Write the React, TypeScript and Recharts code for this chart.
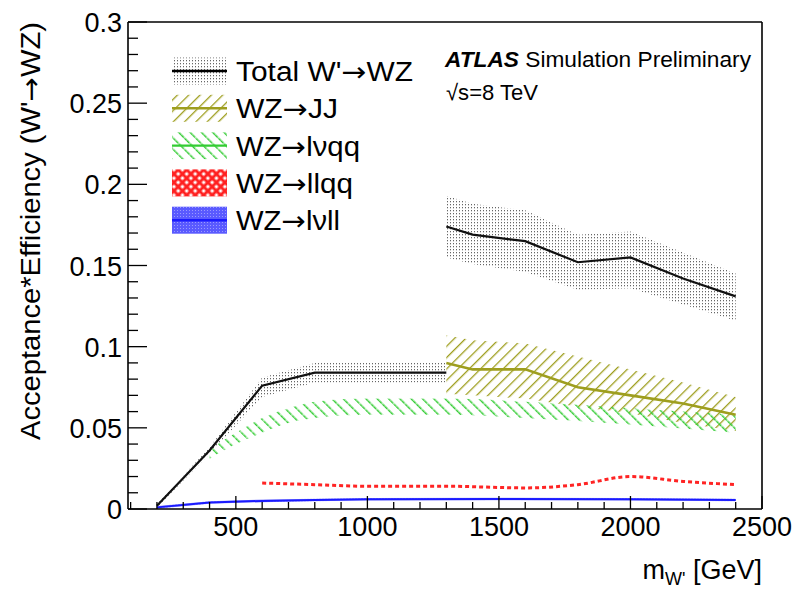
import React from 'react';
import { Area, ComposedChart, Line, XAxis, YAxis } from 'recharts';

// W' mass points and acceptance*efficiency
const totalLoMass = [200, 400, 600, 800, 1000, 1300];
const totalLoVal = [0.002, 0.036, 0.076, 0.084, 0.084, 0.084];
const totalLoDown = [0.001, 0.034, 0.069, 0.078, 0.078, 0.078];
const totalLoUp = [0.003, 0.038, 0.081, 0.09, 0.09, 0.09];

const totalHiMass = [1300, 1400, 1600, 1800, 2000, 2200, 2400];
const totalHiVal = [0.174, 0.169, 0.165, 0.152, 0.155, 0.142, 0.131];
const totalHiDown = [0.155, 0.151, 0.146, 0.135, 0.136, 0.126, 0.116];
const totalHiUp = [0.193, 0.188, 0.184, 0.169, 0.171, 0.158, 0.145];

const jjMass = [1300, 1400, 1600, 1800, 2000, 2200, 2400];
const jjVal = [0.09, 0.086, 0.086, 0.075, 0.07, 0.065, 0.058];
const jjDown = [0.071, 0.07, 0.068, 0.063, 0.059, 0.053, 0.048];
const jjUp = [0.107, 0.104, 0.102, 0.094, 0.086, 0.078, 0.069];

const lvqqMass = [400, 500, 600, 700, 800, 1000, 1300, 1600, 2000, 2400];
const lvqqDown = [0.031, 0.04, 0.047, 0.053, 0.056, 0.058, 0.058, 0.056, 0.052, 0.047];
const lvqqUp = [0.037, 0.047, 0.056, 0.062, 0.066, 0.068, 0.068, 0.066, 0.062, 0.058];

const llqqMass = [600, 800, 1000, 1300, 1600, 1800, 2000, 2200, 2400];
const llqqVal = [0.016, 0.015, 0.014, 0.014, 0.013, 0.015, 0.02, 0.017, 0.015];

const lvllMass = [200, 400, 600, 800, 1000, 1500, 2000, 2400];
const lvllVal = [0.001, 0.004, 0.005, 0.0055, 0.006, 0.0062, 0.006, 0.0055];

const xTicks = [
  100, 200, 300, 400, 500, 600, 700, 800, 900, 1000, 1100, 1200, 1300, 1400, 1500, 1600, 1700,
  1800, 1900, 2000, 2100, 2200, 2300, 2400, 2500,
];
const yTicks = [
  0, 0.01, 0.02, 0.03, 0.04, 0.05, 0.06, 0.07, 0.08, 0.09, 0.1, 0.11, 0.12, 0.13, 0.14, 0.15,
  0.16, 0.17, 0.18, 0.19, 0.2, 0.21, 0.22, 0.23, 0.24, 0.25, 0.26, 0.27, 0.28, 0.29, 0.3,
];

const legendLabels = ["Total W'→WZ", 'WZ→JJ', 'WZ→lνqq', 'WZ→llqq', 'WZ→lνll'];
const legendWidths = [177, 102, 124, 117, 104];

const totalLo = totalLoMass.map((m, i) => ({ m, v: totalLoVal[i], band: [totalLoDown[i], totalLoUp[i]] }));
const totalHi = totalHiMass.map((m, i) => ({ m, v: totalHiVal[i], band: [totalHiDown[i], totalHiUp[i]] }));
const jj = jjMass.map((m, i) => ({ m, v: jjVal[i], band: [jjDown[i], jjUp[i]] }));
const lvqq = lvqqMass.map((m, i) => ({ m, band: [lvqqDown[i], lvqqUp[i]] }));
const llqq = llqqMass.map((m, i) => ({ m, v: llqqVal[i] }));
const lvll = lvllMass.map((m, i) => ({ m, v: lvllVal[i], band: [lvllVal[i] - 0.0008, lvllVal[i] + 0.0008] }));

const FONT = '"Liberation Sans", Arial, sans-serif';
const ARROW_FONT = '"DejaVu Sans", sans-serif';
const OLIVE = '#9e9e1e';
const GREEN = '#33cc33';

function Patterns({ p }: { p: string }) {
  return (
    <defs>
      <pattern id={`${p}dots`} width="3" height="3" patternUnits="userSpaceOnUse">
        <rect width="1" height="1.3" fill="#666" />
      </pattern>
      <pattern id={`${p}olive`} width="8" height="8" patternUnits="userSpaceOnUse" patternTransform="rotate(45)">
        <line x1="0" y1="0" x2="0" y2="8" stroke={OLIVE} strokeWidth="2.6" />
      </pattern>
      <pattern id={`${p}green`} width="8" height="8" patternUnits="userSpaceOnUse" patternTransform="rotate(-45)">
        <line x1="0" y1="0" x2="0" y2="8" stroke={GREEN} strokeWidth="3" strokeDasharray="3.5 0.8" />
      </pattern>
      <pattern id={`${p}red`} width="6" height="6" patternUnits="userSpaceOnUse" patternTransform="rotate(45)">
        <rect width="6" height="6" fill="#ff2020" />
        <rect x="1.5" y="1.5" width="3" height="3" fill="#fff" />
      </pattern>
      <pattern id={`${p}blue`} width="3" height="3" patternUnits="userSpaceOnUse">
        <rect width="3" height="3" fill="#5a5aff" />
        <rect width="1" height="1" fill="#9a9aff" />
      </pattern>
    </defs>
  );
}

// splits a label on the arrow so the arrow can use a font that draws it full size
function withArrow(label: string) {
  const parts = label.split('→');
  if (parts.length < 2) return label;
  return (
    <>
      {parts[0]}
      <tspan fontFamily={ARROW_FONT}>→</tspan>
      {parts[1]}
    </>
  );
}

function BottomTick(props: any) {
  const { x, y, payload } = props;
  const major = payload.value % 500 === 0;
  return (
    <g>
      <line x1={x} y1={y} x2={x} y2={y - (major ? 13 : 7)} stroke="#000" strokeWidth={1.3} />
      {major && (
        <text x={x} y={y + 27} textAnchor="middle" fontSize={27} fontFamily={FONT} fill="#000">
          {payload.value}
        </text>
      )}
    </g>
  );
}

function TopTick(props: any) {
  const { x, y, payload } = props;
  const major = payload.value % 500 === 0;
  return <line x1={x} y1={y} x2={x} y2={y + (major ? 13 : 7)} stroke="#000" strokeWidth={1.3} />;
}

function LeftTick(props: any) {
  const { x, y, payload } = props;
  const major = Math.round(payload.value * 100) % 5 === 0;
  return (
    <g>
      <line x1={x} y1={y} x2={x + (major ? 19 : 10)} y2={y} stroke="#000" strokeWidth={1.3} />
      {major && (
        <text x={x - 6} y={y + 10} textAnchor="end" fontSize={27} fontFamily={FONT} fill="#000">
          {String(payload.value)}
        </text>
      )}
    </g>
  );
}

function RightTick(props: any) {
  const { x, y, payload } = props;
  const major = Math.round(payload.value * 100) % 5 === 0;
  return <line x1={x} y1={y} x2={x - (major ? 19 : 10)} y2={y} stroke="#000" strokeWidth={1.3} />;
}

const swatchFill = ['lgdots', 'lgolive', 'lggreen', 'lgred', 'lgblue'];
const swatchLine = ['#000', OLIVE, GREEN, null, '#1a1aff'];

export default function App() {
  const axisLine = { stroke: '#000', strokeWidth: 1.6 };
  return (
    <div style={{ position: 'absolute', left: 0, top: 0, width: 793, height: 592, background: '#fff' }}>
      <ComposedChart width={793} height={592} margin={{ top: 21, right: 30, bottom: 53, left: 68 }}>
        <Patterns p="ch" />
        <XAxis
          xAxisId="b"
          type="number"
          dataKey="m"
          domain={[90, 2500]}
          ticks={xTicks}
          interval={0}
          height={30}
          axisLine={axisLine}
          tickLine={false}
          tickSize={0}
          tickMargin={0}
          tick={<BottomTick />}
        />
        <XAxis
          xAxisId="t"
          orientation="top"
          type="number"
          dataKey="m"
          domain={[90, 2500]}
          ticks={xTicks}
          interval={0}
          height={1}
          axisLine={axisLine}
          tickLine={false}
          tickSize={0}
          tickMargin={0}
          tick={<TopTick />}
        />
        <YAxis
          yAxisId="l"
          type="number"
          domain={[0, 0.3]}
          ticks={yTicks}
          interval={0}
          width={60}
          axisLine={axisLine}
          tickLine={false}
          tickSize={0}
          tickMargin={0}
          tick={<LeftTick />}
        />
        <YAxis
          yAxisId="r"
          orientation="right"
          type="number"
          domain={[0, 0.3]}
          ticks={yTicks}
          interval={0}
          width={1}
          axisLine={axisLine}
          tickLine={false}
          tickSize={0}
          tickMargin={0}
          tick={<RightTick />}
        />

        <Area xAxisId="b" yAxisId="l" data={totalLo} dataKey="band" type="linear" stroke="none" fill="url(#chdots)" fillOpacity={1} isAnimationActive={false} />
        <Area xAxisId="b" yAxisId="l" data={totalHi} dataKey="band" type="linear" stroke="none" fill="url(#chdots)" fillOpacity={1} isAnimationActive={false} />
        <Area xAxisId="b" yAxisId="l" data={jj} dataKey="band" type="linear" stroke="none" fill="url(#cholive)" fillOpacity={1} isAnimationActive={false} />
        <Area xAxisId="b" yAxisId="l" data={lvqq} dataKey="band" type="monotone" stroke="none" fill="url(#chgreen)" fillOpacity={1} isAnimationActive={false} />
        <Area xAxisId="b" yAxisId="l" data={lvll} dataKey="band" type="linear" stroke="none" fill="url(#chblue)" fillOpacity={0.6} isAnimationActive={false} />

        <Line xAxisId="b" yAxisId="l" data={totalLo} dataKey="v" type="linear" stroke="#111" strokeWidth={2.2} dot={false} isAnimationActive={false} />
        <Line xAxisId="b" yAxisId="l" data={totalHi} dataKey="v" type="linear" stroke="#111" strokeWidth={2.2} dot={false} isAnimationActive={false} />
        <Line xAxisId="b" yAxisId="l" data={jj} dataKey="v" type="linear" stroke={OLIVE} strokeWidth={2.6} dot={false} isAnimationActive={false} />
        <Line xAxisId="b" yAxisId="l" data={llqq} dataKey="v" type="monotone" stroke="#ff2424" strokeWidth={3} strokeDasharray="4 3" dot={false} isAnimationActive={false} />
        <Line xAxisId="b" yAxisId="l" data={lvll} dataKey="v" type="linear" stroke="#1a1aff" strokeWidth={2} dot={false} isAnimationActive={false} />
      </ComposedChart>

      <svg width={793} height={592} style={{ position: 'absolute', left: 0, top: 0, pointerEvents: 'none' }}>
        <Patterns p="lg" />
        {legendLabels.map((label, i) => {
          const cy = 71 + i * 37.3;
          const line = swatchLine[i];
          return (
            <g key={label}>
              <rect x={172} y={cy - 13.5} width={55} height={27} fill={`url(#${swatchFill[i]})`} />
              {line && <line x1={172} x2={227} y1={cy} y2={cy} stroke={line} strokeWidth={2.4} />}
              <text
                x={236}
                y={cy + 10}
                fontSize={27}
                fontFamily={FONT}
                fill="#000"
                textLength={legendWidths[i]}
                lengthAdjust="spacingAndGlyphs"
              >
                {withArrow(label)}
              </text>
            </g>
          );
        })}
        <text x={445} y={67} fontSize={22} fontFamily={FONT} fill="#000" textLength={306} lengthAdjust="spacingAndGlyphs">
          <tspan fontWeight="bold" fontStyle="italic">ATLAS</tspan>
          <tspan> Simulation Preliminary</tspan>
        </text>
        <text x={446} y={100} fontSize={22} fontFamily={FONT} fill="#000" textLength={92} lengthAdjust="spacingAndGlyphs">
          √s=8 TeV
        </text>
        <text x={762} y={579} textAnchor="end" fontSize={27} fontFamily={FONT} fill="#000">
          m<tspan fontSize={18} dy={6}>W'</tspan>
          <tspan dy={-6}> [GeV]</tspan>
        </text>
        <text
          transform="translate(40,22) rotate(-90)"
          textAnchor="end"
          fontSize={27}
          fontFamily={FONT}
          fill="#000"
          textLength={418}
          lengthAdjust="spacingAndGlyphs"
        >
          {withArrow("Acceptance*Efficiency (W'→WZ)")}
        </text>
      </svg>
    </div>
  );
}
